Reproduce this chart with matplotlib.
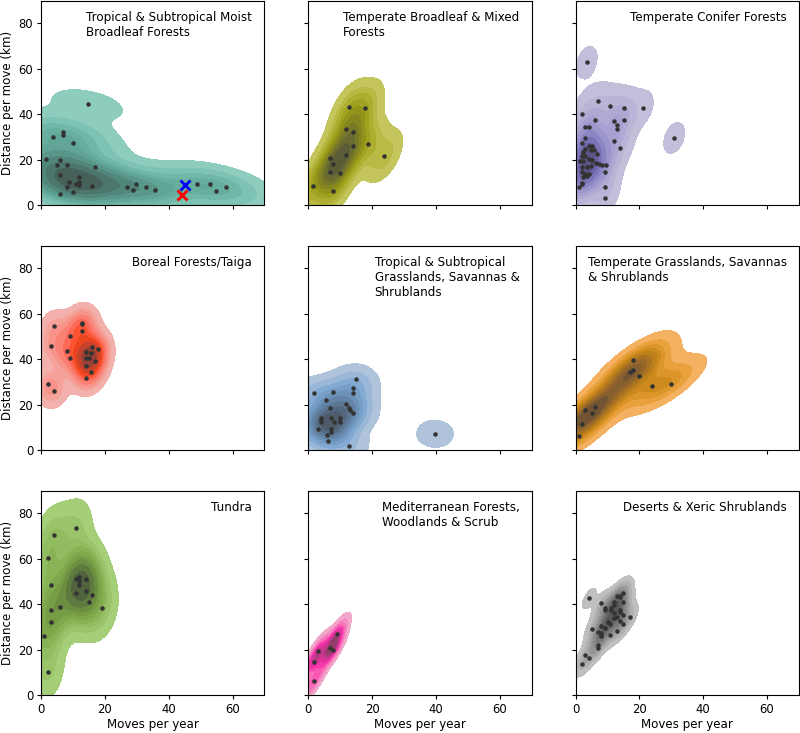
import matplotlib

matplotlib.use("Agg")
import matplotlib.pyplot as plt
import seaborn as sns


# moves per year / distance per move (km)
TROP_MOIST_X = [14.8, 3.9, 7.0, 7.0, 9.9, 1.5, 5.9, 4.9, 8.0, 17.0, 5.9, 11.9, 8.9, 11.9, 10.9,
                11.9, 8.0, 15.9, 9.9, 5.9, 26.8, 28.9, 29.9, 32.8, 35.8, 48.9, 52.8, 54.9, 57.8]
TROP_MOIST_Y = [44.5, 30.1, 32.3, 31.0, 27.1, 20.2, 19.9, 17.6, 17.8, 16.5, 13.3, 12.5, 10.2, 9.9, 9.1,
                8.7, 8.0, 8.3, 5.8, 4.7, 8.0, 6.5, 9.0, 8.1, 6.5, 9.1, 9.3, 6.3, 7.8]

TEMP_BROAD_X = [1.4, 7.9, 6.9, 7.9, 6.9, 9.8, 11.9, 13.9, 11.9, 13.9, 12.9, 17.8, 18.8, 23.8]
TEMP_BROAD_Y = [8.4, 6.2, 14.7, 18.0, 20.5, 14.2, 22.0, 25.8, 33.6, 32.2, 43.2, 42.9, 26.8, 21.4]

TEMP_CONIFER_X = [3.5, 30.9, 7.0, 10.9, 15.1, 21.0, 2.0, 6.0, 15.1, 12.0, 13.0, 13.0, 3.1, 4.2,
                  3.0, 12.0, 2.0, 14.0, 9.1, 9.1, 1.0, 2.0, 4.2, 5.2, 2.9, 2.3, 4.7, 5.7, 2.1,
                  3.1, 6.8, 1.3, 2.3, 4.2, 5.2, 6.3, 7.3, 8.3, 9.4, 4.7, 3.6, 2.1, 9.2, 2.1,
                  3.1, 4.2, 3.6, 2.3, 1.9]
TEMP_CONIFER_Y = [63.0, 29.5, 45.6, 43.8, 42.9, 42.9, 40.1, 37.3, 37.6, 36.9, 35.3, 33.3, 34.2, 34.2,
                  29.5, 28.2, 27.3, 25.2, 8.0, 2.9, 8.0, 9.4, 26.1, 26.1, 24.6, 23.1, 24.2, 24.2, 21.7,
                  21.7, 22.4, 19.2, 19.2, 20.3, 19.8, 18.6, 18.1, 17.8, 17.4, 17.3, 16.8, 16.5, 14.7, 14.3,
                  13.8, 13.5, 12.8, 12.4, 9.8]

BOREAL_X = [2.1, 4.1, 3.0, 4.1, 9.0, 8.0, 9.0, 12.9, 12.9, 12.9, 14.0, 14.0, 15.0, 15.8,
            16.0, 17.9, 16.9, 14.0, 15.8, 14.0]
BOREAL_Y = [29.1, 25.8, 45.7, 54.6, 50.1, 43.5, 40.4, 56.0, 55.3, 52.2, 43.2, 40.3, 40.3, 42.5,
            45.4, 44.5, 39.1, 37.2, 34.5, 31.7]

TROP_GRASS_X = [14.9, 13.9, 13.9, 1.9, 7.8, 5.4, 11.8, 12.8, 13.0, 13.9, 6.8, 4.0, 4.0, 4.0,
                7.0, 8.0, 9.9, 9.9, 2.9, 7.0, 7.0, 5.9, 6.3, 12.8, 39.7]
TROP_GRASS_Y = [31.3, 27.3, 25.1, 25.1, 25.3, 22.1, 20.4, 18.4, 17.7, 16.2, 18.4, 14.0, 13.0, 12.2,
                14.0, 12.2, 14.0, 12.5, 9.2, 9.2, 8.1, 6.6, 4.0, 1.8, 7.1]

TEMP_GRASS_X = [1.0, 2.1, 3.1, 5.1, 6.0, 18.0, 17.0, 18.0, 20.0, 24.0, 30.0]
TEMP_GRASS_Y = [6.3, 11.4, 17.7, 16.2, 18.9, 39.5, 34.2, 35.0, 32.4, 28.3, 29.1]

TUNDRA_X = [10.9, 4.1, 2.1, 3.0, 3.0, 3.0, 5.9, 1.0, 2.1, 10.9, 11.9, 11.9, 14.0, 11.9,
            10.9, 14.0, 15.9, 14.9, 19.0]
TUNDRA_Y = [73.5, 70.6, 60.5, 48.4, 37.6, 32.2, 38.9, 25.8, 10.3, 51.3, 52.1, 50.4, 51.3, 48.4,
            45.0, 46.0, 44.2, 40.9, 38.1]

MEDIT_X = [1.9, 1.9, 2.9, 6.9, 7.9, 8.9]
MEDIT_Y = [6.3, 14.5, 19.3, 20.6, 19.9, 26.8]

DESERT_X = [2.1, 3.1, 4.2, 4.2, 5.1, 7.0, 8.0, 7.0, 7.0, 8.0, 9.1, 8.0, 8.0, 8.0, 9.1, 9.1,
            10.1, 10.9, 10.9, 11.1, 11.1, 11.9, 12.2, 11.9, 11.9, 13.0, 13.8, 14.0, 13.0, 13.0,
            14.0, 14.0, 14.0, 15.0, 15.0, 15.0, 15.0, 17.1]
DESERT_Y = [13.7, 17.7, 16.1, 42.5, 29.1, 27.6, 27.3, 21.8, 20.8, 30.2, 29.5, 26.5, 25.8, 40.3, 38.3, 37.6,
            32.0, 31.4, 26.4, 38.3, 37.2, 40.9, 39.8, 34.0, 36.1, 43.5, 43.2, 43.8, 34.2, 28.3,
            37.6, 36.6, 32.7, 44.7, 41.0, 35.0, 31.1, 34.2]

# the two highlighted moves in the first panel
CROSS_X = [44.3, 45.0]
CROSS_Y = [4.3, 8.7]
CROSS_COLORS = ["red", "blue"]

BIOME_LABELS = [
    "Tropical & Subtropical Moist\nBroadleaf Forests",
    "Temperate Broadleaf & Mixed\nForests",
    "Temperate Conifer Forests",
    "Boreal Forests/Taiga",
    "Tropical & Subtropical\nGrasslands, Savannas &\nShrublands",
    "Temperate Grasslands, Savannas\n& Shrublands",
    "Tundra",
    "Mediterranean Forests,\nWoodlands & Scrub",
    "Deserts & Xeric Shrublands",
]
BIOME_COLORS = ["#69b3a2", "#bcbd22", "#7f77bd", "#fc4e2a", "#6f96bd",
                "#f5a623", "#84b04e", "#e3249c", "gray"]

X_TICKS = [0, 20, 40, 60]
Y_TICKS = [0, 20, 40, 60, 80]


def main() -> None:
    plt.rcParams["font.family"] = "DejaVu Sans"
    plt.rcParams["font.size"] = 8.6

    series = [
        (TROP_MOIST_X, TROP_MOIST_Y),
        (TEMP_BROAD_X, TEMP_BROAD_Y),
        (TEMP_CONIFER_X, TEMP_CONIFER_Y),
        (BOREAL_X, BOREAL_Y),
        (TROP_GRASS_X, TROP_GRASS_Y),
        (TEMP_GRASS_X, TEMP_GRASS_Y),
        (TUNDRA_X, TUNDRA_Y),
        (MEDIT_X, MEDIT_Y),
        (DESERT_X, DESERT_Y),
    ]

    fig, axes = plt.subplots(3, 3, figsize=(8, 7.33), dpi=100, sharex=True, sharey=True)
    fig.subplots_adjust(left=0.05125, right=0.99875, top=0.999, bottom=0.052, wspace=0.196, hspace=0.2)

    for i, (ax, (xs, ys)) in enumerate(zip(axes.flat, series)):
        sns.kdeplot(x=xs, y=ys, fill=True, color=BIOME_COLORS[i], ax=ax)
        ax.scatter(xs, ys, s=5, color="#333333", zorder=3)
        ax.text(0.945, 0.95, BIOME_LABELS[i], transform=ax.transAxes,
                ha="right", va="top", multialignment="left", fontsize=8.6)
        ax.set_xlim(0, 70)
        ax.set_ylim(0, 90)
        ax.set_xticks(X_TICKS)
        ax.set_yticks(Y_TICKS)
        ax.tick_params(length=3, pad=2.5, labelsize=8.4)
        ax.set_xlabel("Moves per year" if i >= 6 else "", labelpad=2)
        ax.set_ylabel("Distance per move (km)" if i % 3 == 0 else "", labelpad=3)

    ax0 = axes.flat[0]
    for cx, cy, cc in zip(CROSS_X, CROSS_Y, CROSS_COLORS):
        ax0.plot(cx, cy, marker="x", color=cc, markersize=7, markeredgewidth=2, zorder=4)

    fig.savefig("out.png", dpi=100)
    plt.close(fig)


if __name__ == "__main__":
    main()
